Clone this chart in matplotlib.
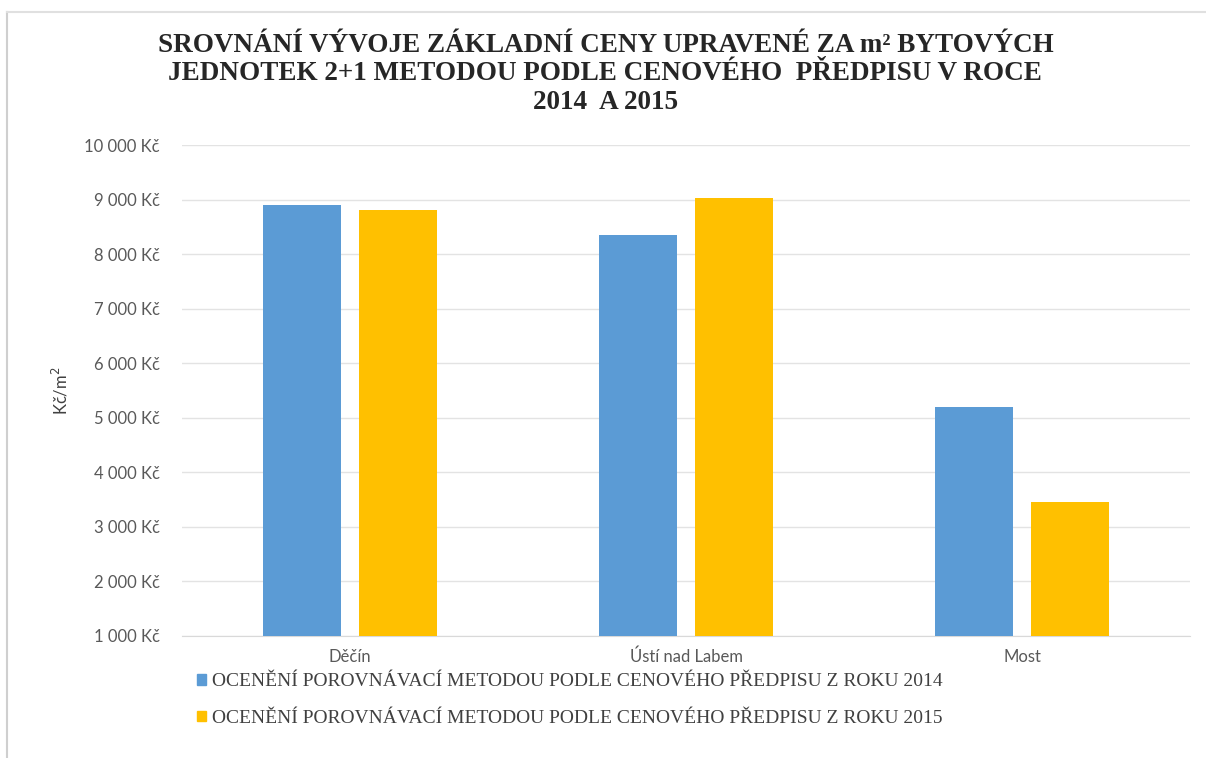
import numpy as np
import matplotlib.pyplot as plt
from matplotlib.ticker import FuncFormatter
from matplotlib.patches import Patch

mesta = ['Děčín', 'Ústí nad Labem', 'Most']
cena_2014 = [8900, 8350, 5200]
cena_2015 = [8800, 9030, 3450]
serie = ['OCENĚNÍ POROVNÁVACÍ METODOU PODLE CENOVÉHO PŘEDPISU Z ROKU 2014',
         'OCENĚNÍ POROVNÁVACÍ METODOU PODLE CENOVÉHO PŘEDPISU Z ROKU 2015']
modra = '#5b9bd5'
zluta = '#ffc000'

fig = plt.figure(figsize=(12.06, 7.58), dpi=100)
ax = fig.add_axes([182/1206, 1-636/758, (1190-182)/1206, (636-145)/758])

x = np.arange(len(mesta))
w = 0.23
ax.bar(x - 0.143, cena_2014, w, color=modra, zorder=3)
ax.bar(x + 0.143, cena_2015, w, color=zluta, zorder=3)

ax.set_xlim(-0.5, 2.5)
ax.set_ylim(1000, 10000)
ax.set_yticks(range(1000, 10001, 1000))
ax.yaxis.set_major_formatter(FuncFormatter(lambda v, p: f'{int(v):,} Kč'.replace(',', ' ')))
ax.set_xticks(x)
ax.set_xticklabels(mesta)
ax.grid(axis='y', color='#e3e3e3', linewidth=1, zorder=0)
for s in ax.spines.values():
    s.set_visible(False)
ax.spines['bottom'].set_visible(True)
ax.spines['bottom'].set_color('#d9d9d9')
ax.tick_params(length=0, labelsize=12, colors='#595959')
ax.tick_params(axis='y', pad=16)
ax.tick_params(axis='x', pad=9)
for t in ax.get_xticklabels() + ax.get_yticklabels():
    t.set_family('Lato')
ax.set_ylabel('Kč/m$^2$', family='Lato', fontsize=12, color='#404040', labelpad=10)

fig.text(0.502, 1-74/758, 'SROVNÁNÍ VÝVOJE ZÁKLADNÍ CENY UPRAVENÉ ZA m² BYTOVÝCH\n'
         'JEDNOTEK 2+1 METODOU PODLE CENOVÉHO  PŘEDPISU V ROCE\n2014  A 2015',
         ha='center', va='center', family='Liberation Serif', weight='bold',
         fontsize=19.5, color='#262626', linespacing=1.17)

leg = fig.legend(handles=[Patch(color=modra), Patch(color=zluta)], labels=serie,
                 loc='upper left', bbox_to_anchor=(180/1206, 1-656/758), frameon=False,
                 prop={'family': 'Liberation Serif', 'size': 14},
                 handlelength=0.45, handleheight=0.45, handletextpad=0.3, labelspacing=1.0)
for t in leg.get_texts():
    t.set_color('#404040')

# okraj grafu
fig.add_artist(plt.Line2D([7/1206, 7/1206], [0, 1-12/758], color='#cfcfcf', lw=1.5))
fig.add_artist(plt.Line2D([7/1206, 1], [1-12/758, 1-12/758], color='#e0e0e0', lw=1.5))

fig.savefig('out.png', dpi=100)
